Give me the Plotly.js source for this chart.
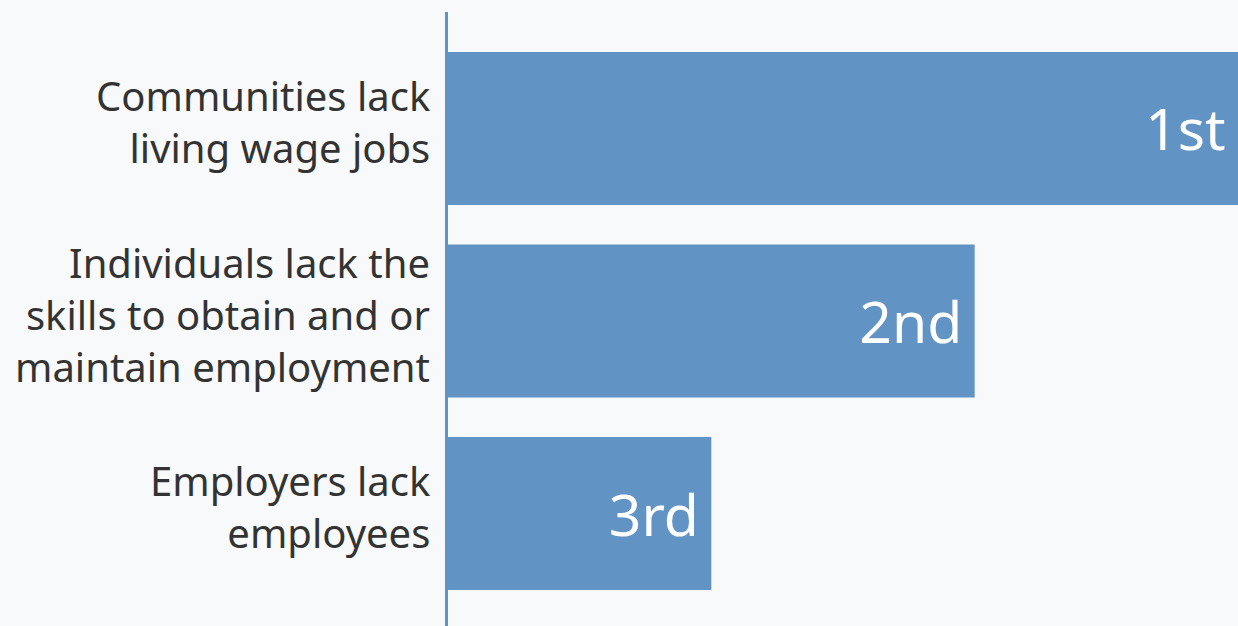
<!DOCTYPE html>
<html>
<head>
<meta charset="utf-8">
<script src="https://cdn.plot.ly/plotly-3.0.1.min.js"></script>
<style>
html,body{margin:0;padding:0;background:#f7f9fa;}
#chart{width:1238px;height:626px;}
</style>
</head>
<body>
<div id="chart"></div>
<script>
const categories = [
  "Communities lack<br>living wage jobs",
  "Individuals lack the<br>skills to obtain and or<br>maintain employment",
  "Employers lack<br>employees"
];
const scores = [3, 2, 1];
const rankLabels = ["1st", "2nd", "3rd"];

const FONT = "'Noto Sans', 'Open Sans', sans-serif";

const trace = {
  type: "bar",
  orientation: "h",
  y: categories,
  x: scores,
  text: rankLabels,
  texttemplate: "%{text}\u2009",
  textposition: "inside",
  insidetextanchor: "end",
  textfont: {family: FONT, size: 57, color: "#ffffff"},
  marker: {color: "#6193c4"},
  hoverinfo: "none"
};

const labelAnnotations = categories.map(c => ({
  xref: "paper", yref: "y",
  x: 0, y: c,
  text: c,
  showarrow: false,
  xanchor: "right",
  yanchor: "middle",
  align: "right",
  xshift: -16,
  yshift: 7,
  font: {family: FONT, size: 40, color: "#333333"}
}));

const layout = {
  width: 1238,
  height: 626,
  margin: {l: 448, r: 0, t: 12, b: 0, pad: 0},
  paper_bgcolor: "#f7f9fa",
  plot_bgcolor: "#f7f9fa",
  bargap: 0.205,
  showlegend: false,
  font: {family: FONT, color: "#333333"},
  annotations: labelAnnotations,
  xaxis: {
    range: [0, 3],
    showgrid: false,
    zeroline: false,
    showticklabels: false,
    showline: false,
    fixedrange: true
  },
  yaxis: {
    type: "category",
    categoryarray: categories,
    range: [2.584, -0.605],
    showgrid: false,
    zeroline: false,
    showline: true,
    linecolor: "#6193c4",
    linewidth: 3,
    ticks: "",
    showticklabels: false,
    fixedrange: true
  }
};

Plotly.newPlot("chart", [trace], layout, {displayModeBar: false, staticPlot: true});
</script>
</body>
</html>
